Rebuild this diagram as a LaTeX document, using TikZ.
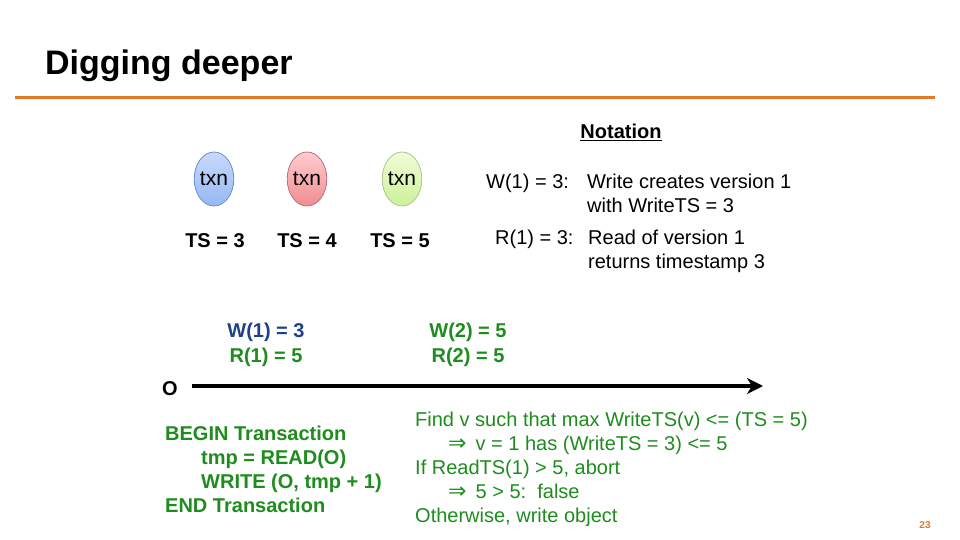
\documentclass[tikz,border=0pt]{standalone}
\usepackage{fontspec}
\setmainfont{Liberation Sans}
\newfontfamily\symf{DejaVu Sans}
\usetikzlibrary{arrows.meta}
\definecolor{orng}{RGB}{226,120,40}
\definecolor{navy}{RGB}{32,64,140}
\definecolor{grn}{RGB}{30,140,30}
\definecolor{bluetop}{RGB}{200,218,252}
\definecolor{bluebot}{RGB}{150,184,244}
\definecolor{blueedge}{RGB}{110,140,200}
\definecolor{redtop}{RGB}{255,205,205}
\definecolor{redbot}{RGB}{240,140,145}
\definecolor{rededge}{RGB}{190,110,125}
\definecolor{grntop}{RGB}{242,252,215}
\definecolor{grnbot}{RGB}{205,240,155}
\definecolor{grnedge}{RGB}{170,200,140}
\tikzset{
  txt/.style={inner sep=0pt, anchor=base west, font=\fontsize{20}{24}\selectfont},
  ctxt/.style={inner sep=0pt, anchor=base, font=\fontsize{20}{24}\selectfont},
  bctxt/.style={inner sep=0pt, anchor=base, font=\fontsize{20}{24}\selectfont\bfseries},
  btxt/.style={inner sep=0pt, anchor=base west, font=\fontsize{20}{24}\selectfont\bfseries},
  txnell/.style={ellipse, minimum width=38pt, minimum height=54pt, inner sep=0pt, line width=0.8pt, font=\fontsize{21}{24}\selectfont},
}
\usetikzlibrary{shapes.geometric}
\newcommand{\darr}{{\symf\fontsize{22}{24}\selectfont ⇒}\hspace{9pt}}
\begin{document}
\begin{tikzpicture}[x=1pt,y=-1pt]
\useasboundingbox (0,0) rectangle (960,540);
\fill[white] (0,0) rectangle (960,540);
% title
\node[inner sep=0pt, anchor=base west, font=\fontsize{34}{40}\selectfont\bfseries] (title) at (45,75) {Digging deeper};
\coordinate (ol) at (15,98);
\coordinate (or) at (935,98);
\draw[orng, line width=3pt] (ol) -- (or);
% notation
\node[bctxt] (notation) at (621,139) {\underline{Notation}};
\node[txt] (w1) at (486,188) {W(1) = 3:};
\node[txt] (w1a) at (587,188) {Write creates version 1};
\node[txt] (w1b) at (587,212) {with WriteTS = 3};
\node[txt] (r1) at (495,244) {R(1) = 3:};
\node[txt] (r1a) at (588,244) {Read of version 1};
\node[txt] (r1b) at (588,268) {returns timestamp 3};
% transactions
\node[txnell, draw=blueedge, top color=bluetop, bottom color=bluebot] (t1) at (214,179) {txn};
\node[txnell, draw=rededge, top color=redtop, bottom color=redbot] (t2) at (307,179) {txn};
\node[txnell, draw=grnedge, top color=grntop, bottom color=grnbot] (t3) at (402,179) {txn};
\node[bctxt] (ts1) at (215,247) {TS = 3};
\node[bctxt] (ts2) at (307,247) {TS = 4};
\node[bctxt] (ts3) at (400,247) {TS = 5};
% versions
\node[bctxt, text=navy] (v1w) at (266,337) {W(1) = 3};
\node[bctxt, text=grn] (v1r) at (266,362) {R(1) = 5};
\node[bctxt, text=grn] (v2w) at (468,337) {W(2) = 5};
\node[bctxt, text=grn] (v2r) at (468,362) {R(2) = 5};
% timeline
\node[bctxt] (obj) at (170,395) {O};
\coordinate (tstart) at (192,386);
\coordinate (tend) at (763,386);
\draw[line width=4pt, -{Stealth[length=16pt, width=16pt, inset=5pt]}] (tstart) -- (tend);
% transaction code
\node[btxt, text=grn] (c1) at (165,440) {BEGIN Transaction};
\node[btxt, text=grn] (c2) at (201,464) {tmp = READ(O)};
\node[btxt, text=grn] (c3) at (201,488) {WRITE (O, tmp + 1)};
\node[btxt, text=grn] (c4) at (165,512) {END Transaction};
% explanation
\node[txt, text=grn] (e1) at (415,426) {Find v such that max WriteTS(v) <= (TS = 5)};
\node[txt, text=grn] (e2) at (448,450) {\darr v = 1 has (WriteTS = 3) <= 5};
\node[txt, text=grn] (e3) at (415,474) {If ReadTS(1) > 5, abort};
\node[txt, text=grn] (e4) at (448,498) {\darr 5 > 5:\ \ false};
\node[txt, text=grn] (e5) at (415,522) {Otherwise, write object};
% page number
\node[inner sep=0pt, anchor=base, text=orng, font=\fontsize{10}{12}\selectfont\bfseries] (pg) at (925,528) {23};
\end{tikzpicture}
\end{document}
